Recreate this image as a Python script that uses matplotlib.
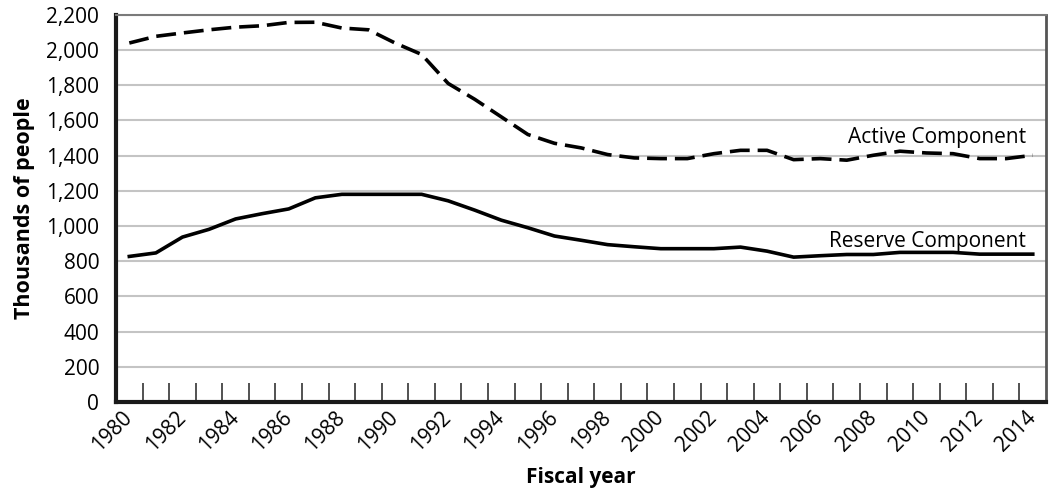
import matplotlib.pyplot as plt
import numpy as np
from matplotlib.ticker import FuncFormatter

# Datos (miles de personas)
years = list(range(1980, 2015))
active = [2040, 2078, 2097, 2115, 2130, 2138, 2157, 2158, 2125, 2115,
          2040, 1975, 1810, 1720, 1620, 1520, 1470, 1444, 1406, 1387,
          1383, 1383, 1411, 1430, 1430, 1377, 1383, 1374, 1402, 1425,
          1415, 1411, 1383, 1383, 1402]
reserve = [827, 847, 937, 981, 1040, 1070, 1097, 1160, 1180, 1180,
           1180, 1180, 1143, 1090, 1033, 990, 943, 919, 894, 882,
           871, 871, 871, 880, 857, 823, 831, 838, 838, 850,
           850, 850, 840, 840, 840]
series_labels = ['Active Component', 'Reserve Component']

plt.rcParams['font.family'] = ['Open Sans', 'DejaVu Sans']
fs = 15

fig = plt.figure(figsize=(10.49, 4.95), dpi=100)
ax = fig.add_axes([0.1106, 0.188, 0.8866, 0.782])

x = np.arange(len(years))
ax.plot(x, active, color='black', lw=2.6, linestyle=(0, (5.5, 2.2)),
        solid_joinstyle='miter', dash_capstyle='butt')
ax.plot(x, reserve, color='black', lw=2.6, solid_joinstyle='round')

ax.text(33.75, 1505, series_labels[0], ha='right', va='center', fontsize=fs)
ax.text(33.75, 912, series_labels[1], ha='right', va='center', fontsize=fs)

ax.set_xlim(-0.5, len(years) - 0.5)
ax.set_ylim(0, 2200)
ax.set_yticks(range(0, 2201, 200))
ax.yaxis.set_major_formatter(FuncFormatter(lambda v, p: f'{int(v):,}'))
ax.grid(axis='y', color='#c4c4c4', lw=1.5)
ax.set_axisbelow(True)

ax.set_xticks(x[::2])
ax.set_xticklabels([str(y) for y in years[::2]], rotation=45, ha='right',
                   va='center', rotation_mode='anchor')
ax.set_xticks(x[:-1] + 0.5, minor=True)
ax.tick_params(axis='x', which='major', length=0, pad=9, labelsize=fs)
ax.tick_params(axis='x', which='minor', length=14, width=1.1,
               direction='in', color='#222222')
ax.tick_params(axis='y', length=0, pad=12, labelsize=fs)

ax.spines['left'].set_linewidth(3)
ax.spines['bottom'].set_linewidth(3)
ax.spines['left'].set_color('#1a1a1a')
ax.spines['bottom'].set_color('#1a1a1a')
ax.spines['top'].set_color('#7a7a7a')
ax.spines['top'].set_linewidth(1.5)
ax.spines['right'].set_color('#555555')
ax.spines['right'].set_linewidth(2)

ax.set_xlabel('Fiscal year', fontsize=fs, fontweight='bold', labelpad=8)
ax.set_ylabel('Thousands of people', fontsize=15.5, fontweight='bold', labelpad=8)

fig.savefig('out.png', dpi=100)
